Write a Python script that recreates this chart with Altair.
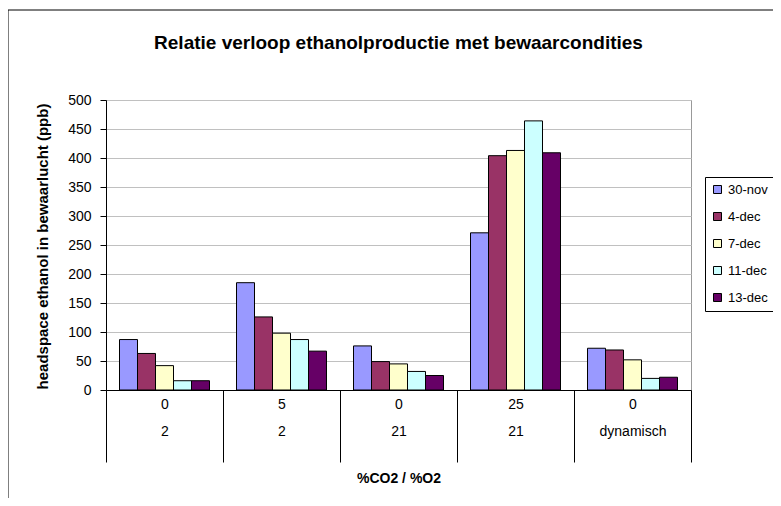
import altair as alt
import pandas as pd

groups = ["0|2", "5|2", "0|21", "25|21", "0|dynamisch"]
dates = ["30-nov", "4-dec", "7-dec", "11-dec", "13-dec"]
v_30nov = [87, 185, 76, 271, 72]
v_4dec = [63, 126, 49, 404, 69]
v_7dec = [42, 98, 45, 413, 52]
v_11dec = [16, 87, 32, 464, 20]
v_13dec = [16, 67, 25, 409, 22]
colors = ["#9999FF", "#993366", "#FFFFCC", "#CCFFFF", "#660066"]
y_ticks = list(range(0, 501, 50))

series = [v_30nov, v_4dec, v_7dec, v_11dec, v_13dec]
rows = []
for d, vals in zip(dates, series):
    for g, v in zip(groups, vals):
        rows.append({"group": g, "date": d, "value": v})
df = pd.DataFrame(rows)

FONT = "Liberation Sans"

bars = alt.Chart(df).mark_bar(stroke="black", strokeWidth=1).encode(
    x=alt.X(
        "group:N",
        sort=groups,
        scale=alt.Scale(paddingInner=0, paddingOuter=0),
        axis=alt.Axis(
            title="%CO2 / %O2",
            labelExpr="split(datum.label, '|')",
            tickBand="extent",
            tickSize=72,
            labelPadding=-65,
            labelLineHeight=27,
            labelFontSize=14,
            labelFont=FONT,
            labelColor="black",
            labelAngle=0,
            domainColor="black",
            tickColor="black",
            titleFontSize=14,
            titleFont=FONT,
            titleFontWeight="bold",
            titleColor="black",
            titleY=88,
            titleBaseline="middle",
            grid=False,
        ),
    ),
    xOffset=alt.XOffset(
        "date:N", sort=dates, scale=alt.Scale(paddingOuter=0.75, paddingInner=0)
    ),
    y=alt.Y(
        "value:Q",
        scale=alt.Scale(domain=[0, 500], nice=False),
        axis=alt.Axis(
            values=y_ticks,
            title="headspace ethanol in bewaarlucht (ppb)",
            titleFont=FONT,
            titleFontSize=15,
            titleFontWeight="bold",
            titleColor="black",
            titleX=-64,
            titleY=146,
            titleBaseline="middle",
            titleAlign="center",
            labelFont=FONT,
            labelFontSize=14,
            labelColor="black",
            labelPadding=9,
            tickSize=6,
            tickColor="black",
            domainColor="black",
            gridColor="#c0c0c0",
        ),
    ),
    color=alt.Color(
        "date:N",
        sort=dates,
        scale=alt.Scale(domain=dates, range=colors),
        legend=alt.Legend(
            title=None,
            orient="none",
            legendX=599,
            legendY=77,
            strokeColor="black",
            padding=6,
            symbolType="square",
            symbolSize=64,
            symbolStrokeColor="black",
            symbolStrokeWidth=1,
            symbolOpacity=1,
            labelFont=FONT,
            labelFontSize=13,
            labelOffset=4,
            labelColor="black",
            rowPadding=13,
        ),
    ),
)

frame = alt.Chart(pd.DataFrame({"a": [0]})).mark_rect(
    fillOpacity=0, stroke="black", strokeWidth=1
).encode(
    x=alt.value(-98), x2=alt.value(700), y=alt.value(-90), y2=alt.value(420)
)

chart = alt.layer(bars, frame).properties(
    width=585,
    height=290,
    title=alt.Title(
        "Relatie verloop ethanolproductie met bewaarcondities",
        font=FONT,
        fontSize=19,
        fontWeight="bold",
        color="black",
        anchor="middle",
        frame="group",
        offset=-43,
    ),
    autosize=alt.AutoSizeParams(type="none"),
    padding={"left": 98, "top": 92, "right": 82, "bottom": 108},
).configure_view(stroke="#999999")

chart.save("out.html", embed_options={"renderer": "svg", "actions": False})
